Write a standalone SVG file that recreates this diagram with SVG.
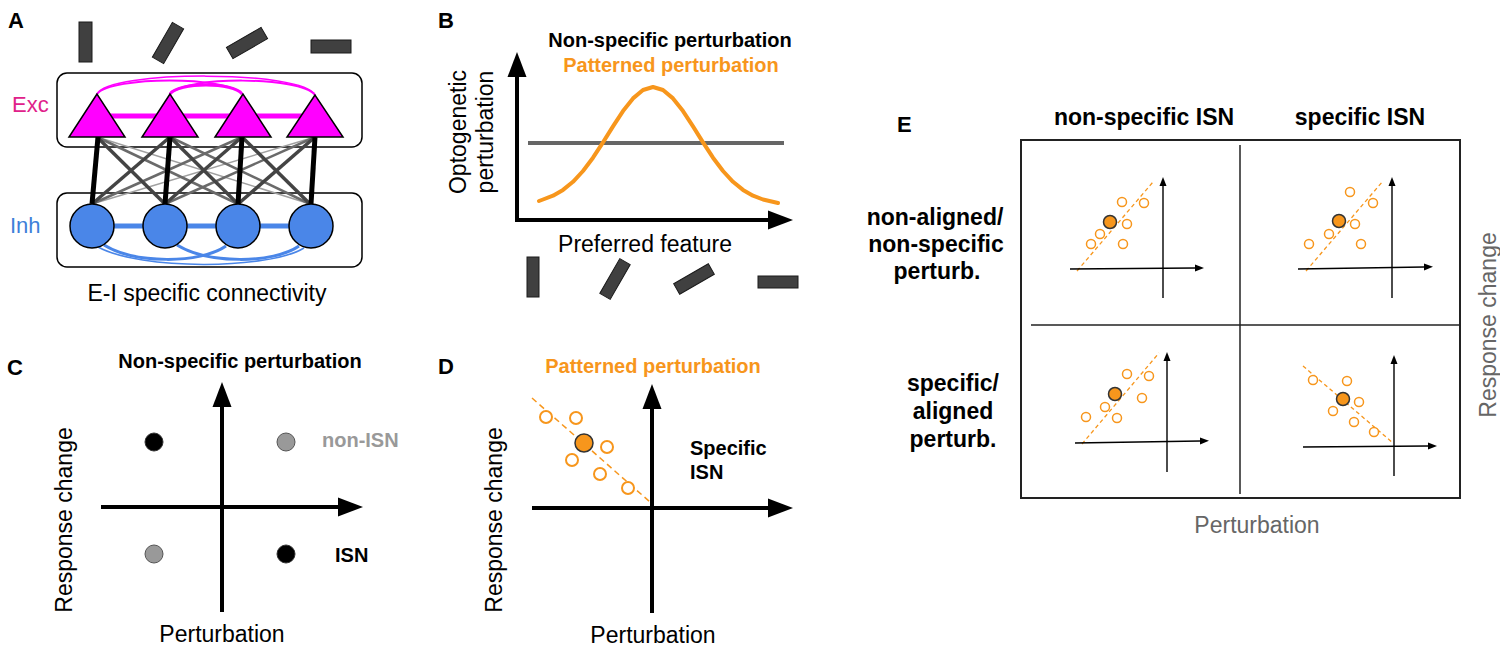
<svg xmlns="http://www.w3.org/2000/svg" width="1500" height="653" viewBox="0 0 1500 653">
<defs>
<style>
text{font-family:"Liberation Sans",Arial,sans-serif}
.pl{font-weight:bold;font-size:22px;fill:#000}
.b20{font-weight:bold;font-size:20px}
.b23{font-weight:bold;font-size:23px;fill:#000}
.r23{font-size:23px;fill:#000}
.grey{fill:#666}
.or{fill:#F7961C}
.ax{stroke:#000;stroke-width:4;fill:none}
.axs{stroke:#000;stroke-width:1.4;fill:none}
.bar{fill:#404040;stroke:#1a1a1a;stroke-width:1}
.oc{fill:#fff;stroke:#F7961C;stroke-width:2}
.ocs{fill:#fff;stroke:#F7961C;stroke-width:1.5}
.fc{fill:#F7961C;stroke:#333;stroke-width:1.5}
.dash{stroke:#F7961C;stroke-width:1.5;stroke-dasharray:6 4;fill:none}
.dashs{stroke:#F7961C;stroke-width:1.3;stroke-dasharray:4 3;fill:none}
.tri{fill:#FF00FF;stroke:#000;stroke-width:1.5}
.cir{fill:#4A86E8;stroke:#000;stroke-width:1.5}
.box{fill:#fff;stroke:#000;stroke-width:1.5}
.ee{stroke:#000;stroke-width:5}
.e1{stroke:#444;stroke-width:3.5}
.e2{stroke:#6a6a6a;stroke-width:2.5}
.e3{stroke:#a0a0a0;stroke-width:1.5}
.pk{stroke:#FF00FF;fill:none}
.bl{stroke:#4A86E8;fill:none}
</style>
<marker id="ah" markerUnits="userSpaceOnUse" markerWidth="26" markerHeight="22" viewBox="0 -11 26 22" refX="0" refY="0" orient="auto"><path d="M0,-9.5 L25,0 L0,9.5 z" fill="#000"/></marker>
<marker id="as" markerUnits="userSpaceOnUse" markerWidth="10" markerHeight="8" viewBox="0 -4 10 8" refX="0" refY="0" orient="auto"><path d="M0,-3.5 L9,0 L0,3.5 z" fill="#000"/></marker>
</defs>
<rect width="1500" height="653" fill="#fff"/>

<!-- Panel A -->
<g id="panelA">
<text class="pl" x="8" y="28">A</text>
<g id="A-bars">
<rect class="bar" x="79" y="22" width="13" height="40"/>
<rect class="bar" x="-6.5" y="-20" width="13" height="40" transform="translate(168,43) rotate(30)"/>
<rect class="bar" x="-6.5" y="-20" width="13" height="40" transform="translate(247,43) rotate(60)"/>
<rect class="bar" x="311" y="40" width="40" height="13"/>
</g>
<g id="exc-box"><rect class="box" x="57" y="73" width="305" height="74" rx="10"/></g>
<g id="inh-box"><rect class="box" x="57" y="193" width="305" height="74" rx="10"/></g>
<text x="12" y="112" style="font-size:22px;fill:#E0218A">Exc</text>
<text x="10" y="233" style="font-size:22px;fill:#3D7FD9">Inh</text>
<text class="r23" x="207" y="301" text-anchor="middle">E-I specific connectivity</text>
</g>

<g id="connectors">
<path class="pk" stroke-width="1.5" d="M97,94 C108,70 304,70 315,95"/>
<path class="pk" stroke-width="2" d="M97,94 C112,76 227,76 242,94"/>
<path class="pk" stroke-width="2" d="M170,94 C185,76 300,76 315,95"/>
<path class="pk" stroke-width="3" d="M170,94 C178,82 234,82 242,94"/>
<path class="pk" stroke-width="5" d="M97,116 L315,116"/>
<path class="bl" stroke-width="5" d="M92,226 L311,226"/>
<path class="bl" stroke-width="3" d="M104,245 C135,264 200,264 226,246"/>
<path class="bl" stroke-width="3" d="M177,245 C208,264 273,264 299,246"/>
<path class="bl" stroke-width="1.5" d="M98,247 C140,270 268,270 304,248"/>
<g id="ei-cross">
<line class="e3" x1="97" y1="137" x2="310" y2="204"/>
<line class="e3" x1="315" y1="137" x2="92" y2="204"/>
<line class="e2" x1="97" y1="137" x2="238" y2="204"/>
<line class="e2" x1="170" y1="137" x2="310" y2="204"/>
<line class="e2" x1="242" y1="137" x2="92" y2="204"/>
<line class="e2" x1="315" y1="137" x2="165" y2="204"/>
<line class="e1" x1="97" y1="137" x2="165" y2="204"/>
<line class="e1" x1="170" y1="137" x2="92" y2="204"/>
<line class="e1" x1="170" y1="137" x2="238" y2="204"/>
<line class="e1" x1="242" y1="137" x2="165" y2="204"/>
<line class="e1" x1="242" y1="137" x2="310" y2="204"/>
<line class="e1" x1="315" y1="137" x2="238" y2="204"/>
<line class="ee" x1="98" y1="137" x2="92" y2="204"/>
<line class="ee" x1="170" y1="137" x2="165" y2="204"/>
<line class="ee" x1="242" y1="137" x2="238" y2="204"/>
<line class="ee" x1="315" y1="137" x2="311" y2="204"/>
</g>
</g>

<g id="E1"><polygon class="tri" points="97,94 69,137 125,137"/></g>
<g id="E2"><polygon class="tri" points="170,94 142,137 198,137"/></g>
<g id="E3"><polygon class="tri" points="243,94 215,137 271,137"/></g>
<g id="E4"><polygon class="tri" points="315,95 287,137 343,137"/></g>
<g id="I1"><circle class="cir" cx="92" cy="226" r="22"/></g>
<g id="I2"><circle class="cir" cx="165" cy="226" r="22"/></g>
<g id="I3"><circle class="cir" cx="238" cy="226" r="22"/></g>
<g id="I4"><circle class="cir" cx="311" cy="226" r="22"/></g>

<!-- Panel B -->
<g id="panelB">
<text class="pl" x="438" y="28">B</text>
<text class="b20" x="670" y="47" text-anchor="middle" fill="#000">Non-specific perturbation</text>
<text class="b20 or" x="671" y="72" text-anchor="middle">Patterned perturbation</text>
<line class="ax" x1="517" y1="222" x2="517" y2="77" marker-end="url(#ah)"/>
<line class="ax" x1="515" y1="220" x2="768" y2="220" marker-end="url(#ah)"/>
<line x1="528" y1="143" x2="784" y2="143" stroke="#666" stroke-width="4"/>
<polyline fill="none" stroke="#F7961C" stroke-width="4" stroke-linejoin="round" stroke-linecap="round" points="539,201 543,199.5 553,195.7 563,189.9 573,181.8 583,171 593,157.7 603,142.4 613,126.4 623,111.1 633,98.4 643,90 653,87 663,90 673,98.4 683,111.1 693,126.4 703,142.4 713,157.7 723,171 733,181.8 743,189.9 753,195.7 763,199.5 778,203"/>
<text class="r23" transform="translate(466,132) rotate(-90)" text-anchor="middle">Optogenetic</text>
<text class="r23" transform="translate(493,132) rotate(-90)" text-anchor="middle">perturbation</text>
<text class="r23" x="645" y="252" text-anchor="middle">Preferred feature</text>
<g id="B-bars">
<rect class="bar" x="527" y="257" width="12" height="40"/>
<rect class="bar" x="-6" y="-20" width="12" height="40" transform="translate(615,279) rotate(30)"/>
<rect class="bar" x="-6" y="-20" width="12" height="40" transform="translate(694,279) rotate(60)"/>
<rect class="bar" x="758" y="276" width="40" height="12"/>
</g>
</g>

<!-- Panel C -->
<g id="panelC">
<text class="pl" x="7" y="375">C</text>
<text class="b20" x="240" y="368" text-anchor="middle" fill="#000">Non-specific perturbation</text>
<line class="ax" x1="222" y1="612" x2="222" y2="407" marker-end="url(#ah)"/>
<line class="ax" x1="101" y1="507" x2="338" y2="507" marker-end="url(#ah)"/>
<circle cx="154" cy="442" r="9" fill="#000" stroke="#333" stroke-width="1"/>
<circle cx="286" cy="442" r="9" fill="#999" stroke="#555" stroke-width="1"/>
<circle cx="154" cy="554" r="9" fill="#999" stroke="#555" stroke-width="1"/>
<circle cx="286" cy="554" r="9" fill="#000" stroke="#333" stroke-width="1"/>
<text class="b20" x="322" y="447" fill="#999">non-ISN</text>
<text class="b20" x="335" y="562" fill="#000">ISN</text>
<text class="r23" transform="translate(72,520) rotate(-90)" text-anchor="middle">Response change</text>
<text class="r23" x="222" y="642" text-anchor="middle">Perturbation</text>
</g>

<!-- Panel D -->
<g id="panelD">
<text class="pl" x="438" y="374">D</text>
<text class="b20 or" x="653" y="373" text-anchor="middle">Patterned perturbation</text>
<line class="dash" x1="532" y1="398" x2="650" y2="502"/>
<line class="ax" x1="652" y1="613" x2="652" y2="409" marker-end="url(#ah)"/>
<line class="ax" x1="532" y1="508" x2="768" y2="508" marker-end="url(#ah)"/>
<circle class="oc" cx="546" cy="417" r="6"/>
<circle class="oc" cx="576" cy="418" r="6"/>
<circle class="oc" cx="607" cy="447" r="6"/>
<circle class="oc" cx="572" cy="460" r="6"/>
<circle class="oc" cx="600" cy="474" r="6"/>
<circle class="oc" cx="628" cy="488" r="6"/>
<circle class="fc" cx="584" cy="443" r="9"/>
<text class="b20" x="690" y="455" fill="#000">Specific</text>
<text class="b20" x="690" y="479" fill="#000">ISN</text>
<text class="r23" transform="translate(502,520) rotate(-90)" text-anchor="middle">Response change</text>
<text class="r23" x="653" y="643" text-anchor="middle">Perturbation</text>
</g>

<!-- Panel E -->
<g id="panelE">
<text class="pl" x="897" y="132">E</text>
<text class="b23" x="1144" y="125" text-anchor="middle">non-specific ISN</text>
<text class="b23" x="1360" y="125" text-anchor="middle">specific ISN</text>
<rect x="1021" y="140" width="439" height="358" fill="none" stroke="#222" stroke-width="2"/>
<line x1="1240" y1="145" x2="1240" y2="494" stroke="#222" stroke-width="1.5"/>
<line x1="1031" y1="325" x2="1460" y2="325" stroke="#222" stroke-width="1.5"/>
<text class="b23" x="935" y="225" text-anchor="middle">non-aligned/</text>
<text class="b23" x="936" y="252" text-anchor="middle">non-specific</text>
<text class="b23" x="937" y="279" text-anchor="middle">perturb.</text>
<text class="b23" x="953" y="391" text-anchor="middle">specific/</text>
<text class="b23" x="953" y="419" text-anchor="middle">aligned</text>
<text class="b23" x="953" y="447" text-anchor="middle">perturb.</text>
<text class="r23 grey" transform="translate(1496,325) rotate(-90)" text-anchor="middle">Response change</text>
<text class="r23 grey" x="1257" y="533" text-anchor="middle">Perturbation</text>

<g id="E-q1">
<line class="dashs" x1="1077" y1="271" x2="1153" y2="182"/>
<line class="axs" x1="1070" y1="269" x2="1195" y2="268" marker-end="url(#as)"/>
<line class="axs" x1="1163" y1="298" x2="1163" y2="186" marker-end="url(#as)"/>
<circle class="ocs" cx="1122" cy="202" r="4.5"/>
<circle class="ocs" cx="1144" cy="203" r="4.5"/>
<circle class="ocs" cx="1127" cy="224" r="4.5"/>
<circle class="ocs" cx="1100" cy="234" r="4.5"/>
<circle class="ocs" cx="1091" cy="244" r="4.5"/>
<circle class="ocs" cx="1123" cy="244" r="4.5"/>
<circle class="fc" cx="1110" cy="222" r="6.5"/>
</g>
<g id="E-q2">
<line class="dashs" x1="1306" y1="271" x2="1383" y2="181"/>
<line class="axs" x1="1298" y1="269" x2="1424" y2="267" marker-end="url(#as)"/>
<line class="axs" x1="1392" y1="298" x2="1392" y2="186" marker-end="url(#as)"/>
<circle class="ocs" cx="1350" cy="192" r="4.5"/>
<circle class="ocs" cx="1373" cy="203" r="4.5"/>
<circle class="ocs" cx="1355" cy="224" r="4.5"/>
<circle class="ocs" cx="1329" cy="234" r="4.5"/>
<circle class="ocs" cx="1309" cy="244" r="4.5"/>
<circle class="ocs" cx="1361" cy="244" r="4.5"/>
<circle class="fc" cx="1339" cy="221" r="6.5"/>
</g>
<g id="E-q3">
<line class="dashs" x1="1082" y1="444" x2="1159" y2="353"/>
<line class="axs" x1="1075" y1="443" x2="1200" y2="441" marker-end="url(#as)"/>
<line class="axs" x1="1167" y1="472" x2="1167" y2="361" marker-end="url(#as)"/>
<circle class="ocs" cx="1127" cy="374" r="4.5"/>
<circle class="ocs" cx="1149" cy="376" r="4.5"/>
<circle class="ocs" cx="1142" cy="398" r="4.5"/>
<circle class="ocs" cx="1105" cy="407" r="4.5"/>
<circle class="ocs" cx="1086" cy="417" r="4.5"/>
<circle class="ocs" cx="1117" cy="418" r="4.5"/>
<circle class="fc" cx="1115" cy="394" r="6.5"/>
</g>
<g id="E-q4">
<line class="dashs" x1="1303" y1="366" x2="1393" y2="443"/>
<line class="axs" x1="1303" y1="447" x2="1428" y2="446" marker-end="url(#as)"/>
<line class="axs" x1="1394" y1="476" x2="1394" y2="364" marker-end="url(#as)"/>
<circle class="ocs" cx="1313" cy="380" r="4.5"/>
<circle class="ocs" cx="1347" cy="381" r="4.5"/>
<circle class="ocs" cx="1359" cy="402" r="4.5"/>
<circle class="ocs" cx="1333" cy="411" r="4.5"/>
<circle class="ocs" cx="1354" cy="422" r="4.5"/>
<circle class="ocs" cx="1374" cy="432" r="4.5"/>
<circle class="fc" cx="1343" cy="399" r="6.5"/>
</g>
</g>
</svg>
